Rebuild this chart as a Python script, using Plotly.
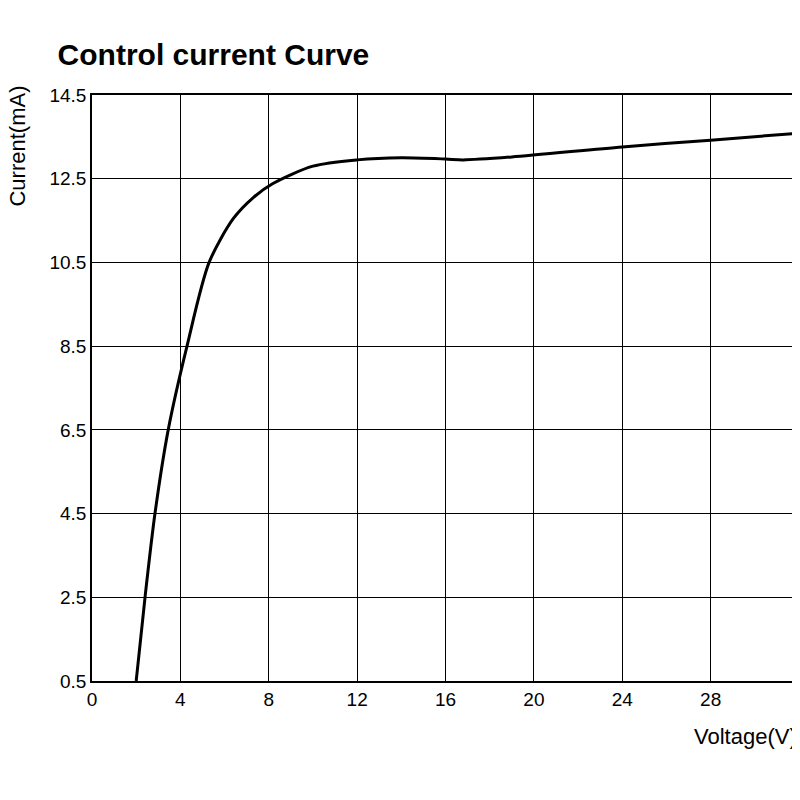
import plotly.graph_objects as go

voltage = [2.0, 2.4, 2.85, 3.45, 4.3, 5.3, 6.4, 7.3, 8.17, 10.0, 12.0, 14.0, 16.0, 16.8, 19.0, 24.0, 28.0, 32.0]
current = [0.5, 2.5, 4.5, 6.5, 8.5, 10.5, 11.55, 12.05, 12.38, 12.8, 12.95, 13.0, 12.97, 12.95, 13.02, 13.26, 13.42, 13.59]
x_ticks = [0, 4, 8, 12, 16, 20, 24, 28, 32]
y_ticks = [0.5, 2.5, 4.5, 6.5, 8.5, 10.5, 12.5, 14.5]

font = "Liberation Sans Narrow, Liberation Sans, sans-serif"
fig = go.Figure(go.Scatter(x=voltage, y=current, mode="lines", line=dict(color="black", width=3, shape="spline", smoothing=0.8)))
axis_common = dict(showgrid=True, gridcolor="black", gridwidth=1, showline=True, linecolor="black", linewidth=1.5,
                   mirror=True, ticks="", tickfont=dict(family=font, size=19, color="black"), zeroline=False,
                   automargin=False)
fig.update_layout(
    width=800, height=800, plot_bgcolor="white", paper_bgcolor="white", showlegend=False,
    margin=dict(l=84, r=9, t=87, b=127, autoexpand=False),
    title=dict(text="<b>Control current Curve</b>", x=0.062, y=0.955, xanchor="left",
               font=dict(family=font, size=30, color="black")),
    xaxis=dict(range=[0, 32], tickvals=x_ticks, **axis_common),
    yaxis=dict(range=[0.5, 14.5], tickvals=y_ticks, ticksuffix=" ", **axis_common),
    annotations=[
        dict(text="Voltage(V)", x=1, y=-0.07, xref="paper", yref="paper", xanchor="right", yanchor="top",
             showarrow=False, font=dict(family=font, size=22, color="black")),
        dict(text="Current(mA)", x=-0.105, y=1.02, xref="paper", yref="paper", xanchor="center", yanchor="top",
             textangle=-90, showarrow=False, font=dict(family=font, size=22, color="black")),
    ],
)
fig.write_html("out.html")
